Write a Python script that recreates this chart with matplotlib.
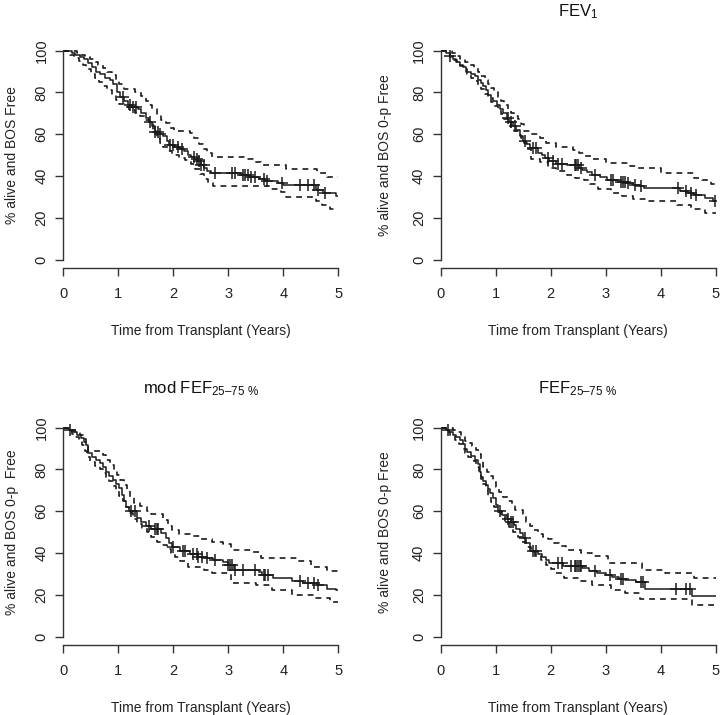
import numpy as np
import matplotlib
matplotlib.use("Agg")
import matplotlib.pyplot as plt

plt.rcParams['font.family'] = ['Liberation Sans', 'DejaVu Sans']
plt.rcParams['mathtext.fontset'] = 'custom'
plt.rcParams['mathtext.rm'] = 'Liberation Sans'
plt.rcParams['mathtext.it'] = 'Liberation Sans:italic'
plt.rcParams['mathtext.bf'] = 'Liberation Sans:bold'

# ---------------- data ----------------
titles = ["", r"FEV$_\mathregular{1}$", r"mod FEF$_\mathregular{25–75\ \%}$", r"FEF$_\mathregular{25–75\ \%}$"]
ylabels = ["% alive and BOS Free", "% alive and BOS 0-p Free",
           "% alive and BOS 0-p  Free", "% alive and BOS 0-p Free"]
xlabel = "Time from Transplant (Years)"
xticks = [0, 1, 2, 3, 4, 5]
yticks = [0, 20, 40, 60, 80, 100]

# Panel 1
p1_t = [0, 0.15, 0.22, 0.30, 0.38, 0.45, 0.52, 0.60, 0.67, 0.75, 0.85, 0.90, 0.97, 1.03, 1.10, 1.18, 1.25,
        1.35, 1.42, 1.50, 1.56, 1.62, 1.66, 1.75, 1.82, 1.88, 1.93, 2.02, 2.12, 2.20, 2.27, 2.33, 2.38, 2.44,
        2.50, 2.56, 2.62, 2.68, 3.25, 3.38, 3.55, 3.67, 3.90, 4.00, 4.60, 4.72, 4.95]
p1_s = [100, 99, 98, 97, 96, 94, 92, 90, 89, 87, 86, 84, 80, 78, 76, 74, 73,
        72, 70, 68, 66, 64, 61, 60, 59, 57, 55, 54, 53, 52, 50, 49, 48, 47,
        45.5, 44, 42.5, 41.3, 40.5, 39.5, 38.5, 37.5, 36.5, 35.5, 33.5, 32, 30.5]
p1_up_t = [0, 0.25, 0.32, 0.40, 0.48, 0.56, 0.64, 0.72, 0.80, 0.88, 0.95, 1.02, 1.10, 1.30, 1.42, 1.50, 1.55,
           1.62, 1.70, 1.78, 1.86, 1.94, 2.02, 2.30, 2.38, 2.46, 2.54, 2.62, 2.70, 3.30, 3.45, 3.60, 4.05,
           4.62, 4.80]
p1_up_s = [100, 99, 98, 97, 96, 94.5, 93, 91.5, 90, 88.5, 86, 84, 81.5, 80, 78.5, 76, 74,
           72, 69, 67, 65.5, 63, 61.5, 60.5, 58, 55.5, 53, 51, 49, 48, 46.5, 45.5, 43.5,
           41.5, 39.5]
p1_lo_t = [0, 0.12, 0.20, 0.28, 0.35, 0.42, 0.50, 0.58, 0.65, 0.72, 0.80, 0.88, 0.95, 1.02, 1.10, 1.20, 1.30,
           1.40, 1.48, 1.56, 1.64, 1.70, 1.76, 1.82, 1.90, 1.98, 2.10, 2.22, 2.32, 2.40, 2.48, 2.56, 2.64,
           2.72, 3.75, 3.95, 4.05, 4.60, 4.70, 4.85]
p1_lo_s = [100, 98, 96.5, 95, 93, 91, 89, 87, 85, 83, 81, 79, 76.5, 74.5, 73, 71.5, 70,
           68.5, 67, 65, 62, 58.5, 56, 54, 52, 50, 48.5, 47.5, 46, 43.5, 41, 38.5, 36.5,
           35, 34, 32.5, 30, 28, 26, 24]
p1_cens = [1.09, 1.21, 1.27, 1.33, 1.58, 1.67, 1.73, 1.76, 1.94, 2.00, 2.09, 2.15, 2.37, 2.43, 2.46, 2.50,
           2.55, 2.76, 3.06, 3.12, 3.27, 3.30, 3.36, 3.42, 3.48, 3.64, 3.70, 3.97, 4.30, 4.45, 4.55, 4.64, 4.76]

# Panel 2 (FEV1)
p2_t = [0, 0.10, 0.17, 0.23, 0.29, 0.35, 0.41, 0.47, 0.55, 0.62, 0.69, 0.74, 0.78, 0.83, 0.87, 0.92, 0.96,
        1.02, 1.08, 1.14, 1.20, 1.25, 1.31, 1.38, 1.45, 1.50, 1.56, 1.62, 1.78, 1.84, 1.90, 1.97, 2.10, 2.30,
        2.52, 2.58, 2.66, 2.76, 2.90, 3.02, 3.28, 3.38, 3.50, 3.62, 3.70, 4.35, 4.50, 4.60, 4.80, 4.95]
p2_s = [100, 99, 97.5, 96, 94.5, 93, 92, 90, 89, 88, 86, 84.5, 83, 81, 79, 77.5, 76,
        74, 72, 70, 68, 66, 64, 62, 59, 57, 55.5, 53.5, 51, 50, 48.5, 47, 46, 45.3,
        44, 43, 42, 40.5, 39.5, 38.3, 37.3, 36.5, 35.7, 35, 34.3, 33, 32, 31, 29.5, 28]
p2_up_t = [0, 0.20, 0.28, 0.36, 0.44, 0.52, 0.60, 0.68, 0.74, 0.80, 0.86, 0.92, 0.98, 1.04, 1.10, 1.16, 1.22,
           1.28, 1.34, 1.40, 1.46, 1.52, 1.62, 1.80, 1.92, 2.10, 2.40, 2.52, 2.62, 2.75, 3.00, 3.45, 3.55,
           4.00, 4.60, 4.75, 4.92]
p2_up_s = [100, 99, 97.5, 96, 94.5, 93, 91.5, 90, 88, 86, 84, 82, 80, 78, 76, 74, 72,
           70, 68.5, 67.5, 65, 61.5, 60, 58, 56, 54, 52.5, 51, 49.5, 48, 46.3, 45, 43.9,
           41.5, 39, 38, 36]
p2_lo_t = [0, 0.12, 0.18, 0.24, 0.30, 0.36, 0.42, 0.48, 0.55, 0.62, 0.68, 0.74, 0.80, 0.86, 0.92, 0.98, 1.04,
           1.10, 1.16, 1.22, 1.28, 1.34, 1.40, 1.46, 1.52, 1.58, 1.64, 1.80, 1.95, 2.10, 2.30, 2.45, 2.60,
           2.72, 2.86, 3.10, 3.30, 3.50, 3.75, 4.30, 4.55, 4.80]
p2_lo_s = [100, 98.5, 97, 95.5, 94, 92.5, 91, 89, 87, 85.5, 83.5, 81.5, 79.5, 77.5, 75.5, 73.5, 71.5,
           69.5, 67.5, 65.5, 63.5, 61.5, 59.5, 58, 56, 53, 48, 46.5, 44, 42.5, 40.7, 39, 38,
           36, 34, 32, 30.5, 29, 28, 26, 24, 22.5]
p2_cens = [0.17, 1.23, 1.29, 1.35, 1.53, 1.68, 1.74, 1.95, 2.05, 2.14, 2.20, 2.44, 2.47, 2.50, 2.56, 2.80,
           3.10, 3.14, 3.29, 3.32, 3.35, 3.41, 3.53, 3.65, 4.32, 4.47, 4.56, 4.65, 4.99]

# Panel 3 (mod FEF25-75%)
p3_t = [0, 0.10, 0.18, 0.25, 0.32, 0.38, 0.42, 0.45, 0.52, 0.60, 0.66, 0.72, 0.78, 0.84, 0.90, 0.96, 1.02,
        1.06, 1.10, 1.14, 1.20, 1.34, 1.42, 1.50, 1.60, 1.78, 1.86, 1.93, 1.98, 2.12, 2.30, 2.45, 2.60, 2.72,
        2.90, 3.00, 3.10, 3.55, 3.62, 3.82, 4.15, 4.35, 4.62, 4.80, 4.95]
p3_s = [100, 99, 98, 96.5, 95, 93, 91.5, 88, 86, 84.5, 83, 81, 79, 77, 75, 73, 71,
        68, 65, 62, 60, 57, 55, 53, 51.5, 49.5, 47, 45, 43, 41, 39.5, 38.3, 37.5, 36.5,
        35.5, 34.5, 32, 31, 29.5, 28, 26.5, 25.5, 24.5, 23, 22.3]
p3_up_t = [0, 0.15, 0.22, 0.30, 0.36, 0.42, 0.45, 0.72, 0.78, 0.85, 0.92, 0.98, 1.04, 1.10, 1.16, 1.22, 1.28,
           1.40, 1.52, 1.60, 1.82, 1.90, 1.98, 2.10, 2.30, 2.50, 2.70, 2.90, 3.05, 3.45, 3.60, 4.25, 4.50,
           4.80]
p3_up_s = [100, 99, 98, 96.5, 94.5, 92, 89, 87, 84.5, 82, 80, 77.5, 75, 72.5, 70, 67, 64,
           62.5, 60, 58.5, 56, 53, 51, 49, 48, 46.5, 45.5, 44.5, 41.5, 40.5, 37.5, 36, 33.5,
           31.5]
p3_lo_t = [0, 0.08, 0.15, 0.22, 0.28, 0.34, 0.40, 0.44, 0.48, 0.58, 0.66, 0.72, 0.78, 0.84, 0.90, 0.96, 1.02,
           1.08, 1.14, 1.20, 1.26, 1.34, 1.44, 1.52, 1.60, 1.70, 1.80, 1.88, 1.96, 2.04, 2.12, 2.26, 2.55,
           2.70, 3.05, 3.50, 3.80, 4.15, 4.55, 4.85]
p3_lo_s = [100, 98.5, 97, 95.5, 93.5, 91.5, 89, 86, 83.5, 81.5, 80, 78.5, 76.5, 74.5, 72, 70, 67.5,
           65, 62, 59, 56.5, 54, 52, 50, 47.5, 45.5, 44, 42, 40, 38, 36, 33.5, 32,
           30.3, 25.5, 24.5, 22.3, 20, 18.4, 16.7]
p3_cens = [0.12, 1.24, 1.30, 1.55, 1.67, 1.70, 1.73, 2.00, 2.18, 2.21, 2.36, 2.43, 2.45, 2.52, 2.61, 2.76,
           3.00, 3.03, 3.06, 3.12, 3.27, 3.49, 3.64, 3.67, 3.73, 4.30, 4.45, 4.55, 4.64]

# Panel 4 (FEF25-75%)
p4_t = [0, 0.10, 0.16, 0.22, 0.28, 0.35, 0.40, 0.44, 0.48, 0.56, 0.63, 0.68, 0.71, 0.74, 0.78, 0.82, 0.86,
        0.90, 0.95, 1.00, 1.05, 1.12, 1.20, 1.28, 1.33, 1.38, 1.45, 1.50, 1.56, 1.62, 1.78, 1.84, 1.92, 1.98,
        2.22, 2.58, 2.70, 2.84, 3.00, 3.12, 3.25, 3.35, 3.55, 3.72, 4.57]
p4_s = [100, 99, 98, 96.5, 95.5, 94, 92, 90, 88.5, 86.5, 84.5, 82.5, 79, 76.5, 74.5, 72.5, 70.5,
        68.5, 66.5, 63, 60, 58, 56.5, 55, 53.5, 51.5, 49.5, 47, 45, 41, 39.5, 38, 36.5, 35,
        33.8, 32.7, 31.5, 30.3, 29.5, 28.7, 27.5, 27, 26, 23, 19.3]
p4_up_t = [0, 0.22, 0.30, 0.38, 0.44, 0.50, 0.58, 0.64, 0.70, 0.74, 0.78, 0.84, 0.90, 0.95, 1.00, 1.06, 1.14,
           1.22, 1.30, 1.36, 1.50, 1.56, 1.62, 1.70, 1.78, 1.86, 1.96, 2.06, 2.16, 2.28, 2.55, 2.75, 3.05,
           3.66, 4.08, 4.60]
p4_up_s = [100, 99, 98, 96, 93.5, 92.5, 91, 89.5, 87.5, 85, 81, 79, 77, 74, 71.5, 69, 67,
           65, 63, 60.5, 58.5, 55, 53, 51, 49, 47.5, 46.5, 45, 43.5, 41.5, 40, 38.5, 35,
           32, 30.3, 27.9]
p4_lo_t = [0, 0.10, 0.18, 0.26, 0.34, 0.40, 0.45, 0.50, 0.56, 0.64, 0.70, 0.73, 0.77, 0.82, 0.87, 0.92, 0.98,
           1.04, 1.10, 1.18, 1.25, 1.32, 1.40, 1.48, 1.56, 1.64, 1.72, 1.82, 1.92, 2.00, 2.10, 2.25, 2.55,
           2.75, 3.10, 3.35, 3.62, 4.58]
p4_lo_s = [100, 98, 96, 94, 92, 90, 88, 86, 84, 81, 78, 75.5, 73, 70, 67, 64.5, 62,
           59.5, 57.5, 55, 52.5, 50, 47.5, 45.5, 43, 40.5, 38.5, 36.5, 34.5, 32.5, 30.5, 28, 26.5,
           24.7, 22.5, 21, 18, 15]
p4_cens = [0.14, 1.08, 1.23, 1.29, 1.32, 1.53, 1.68, 1.74, 2.14, 2.20, 2.38, 2.44, 2.47, 2.50, 2.53, 2.56,
           2.80, 3.08, 3.29, 3.32, 3.65, 3.68, 4.29, 4.47, 4.53]

panels = [
    (p1_t, p1_s, p1_up_t, p1_up_s, p1_lo_t, p1_lo_s, p1_cens),
    (p2_t, p2_s, p2_up_t, p2_up_s, p2_lo_t, p2_lo_s, p2_cens),
    (p3_t, p3_s, p3_up_t, p3_up_s, p3_lo_t, p3_lo_s, p3_cens),
    (p4_t, p4_s, p4_up_t, p4_up_s, p4_lo_t, p4_lo_s, p4_cens),
]

# ---------------- layout ----------------
W, H = 720, 715
fig = plt.figure(figsize=(W / 100, H / 100), dpi=100)
lefts = [63.3, 440.5, 63.3, 440.5]
bottoms = [268, 268, 645, 645]
ylabel_x = [-0.1865, -0.202, -0.1876, -0.202]
aw, ah = 275, 225.7
ink = '#1a1a1a'


def steps(t, s, tmax=5.0):
    t = list(t) + [tmax]
    s = list(s) + [s[-1]]
    return t, s


for i, (t, s, ut, us, lt, ls, cens) in enumerate(panels):
    ax = fig.add_axes([lefts[i] / W, (H - bottoms[i]) / H, aw / W, ah / H])
    ax.set_xlim(0, 5)
    ax.set_ylim(-4, 104)

    tt, ss = steps(t, s)
    ax.plot(tt, ss, drawstyle='steps-post', color=ink, lw=1.1)
    tt, ss = steps(ut, us)
    ax.plot(tt, ss, drawstyle='steps-post', color=ink, lw=1.2, dashes=(3.5, 3.0))
    tt, ss = steps(lt, ls)
    ax.plot(tt, ss, drawstyle='steps-post', color=ink, lw=1.2, dashes=(3.5, 3.0))

    ta = np.asarray(t)
    sa = np.asarray(s)
    idx = np.searchsorted(ta, np.asarray(cens), side='right') - 1
    ax.plot(cens, sa[idx], linestyle='none', marker='+', markersize=8,
            markeredgewidth=1.1, color=ink)

    for side in ['top', 'right']:
        ax.spines[side].set_visible(False)
    ax.spines['left'].set_bounds(0, 100)
    ax.spines['bottom'].set_bounds(0, 5)
    for side in ['left', 'bottom']:
        ax.spines[side].set_linewidth(1.0)
        ax.spines[side].set_color('#333333')

    ax.set_xticks(xticks)
    ax.set_yticks(yticks)
    ax.set_xticklabels([str(v) for v in xticks])
    ax.set_yticklabels([str(v) for v in yticks])
    ax.tick_params(axis='both', direction='out', length=5.5, width=1.0, color='#333333',
                   labelsize=10.5, labelcolor='#222222')
    ax.tick_params(axis='x', pad=8)
    ax.tick_params(axis='y', pad=5)
    for lab in ax.get_yticklabels():
        lab.set_rotation(90)
        lab.set_va('center')

    ax.set_xlabel(xlabel, fontsize=10, color='#222222')
    ax.xaxis.set_label_coords(0.5, -0.28)
    ax.xaxis.label.set_va('center')
    ax.set_ylabel(ylabels[i], fontsize=10, color='#222222')
    ax.yaxis.set_label_coords(ylabel_x[i], 0.5)
    ax.yaxis.label.set_va('center')

    if titles[i]:
        ax.text(0.5, 1.135, titles[i], transform=ax.transAxes, ha='center', va='center',
                fontsize=12, color='#111111')

fig.savefig('out.png', dpi=100)
